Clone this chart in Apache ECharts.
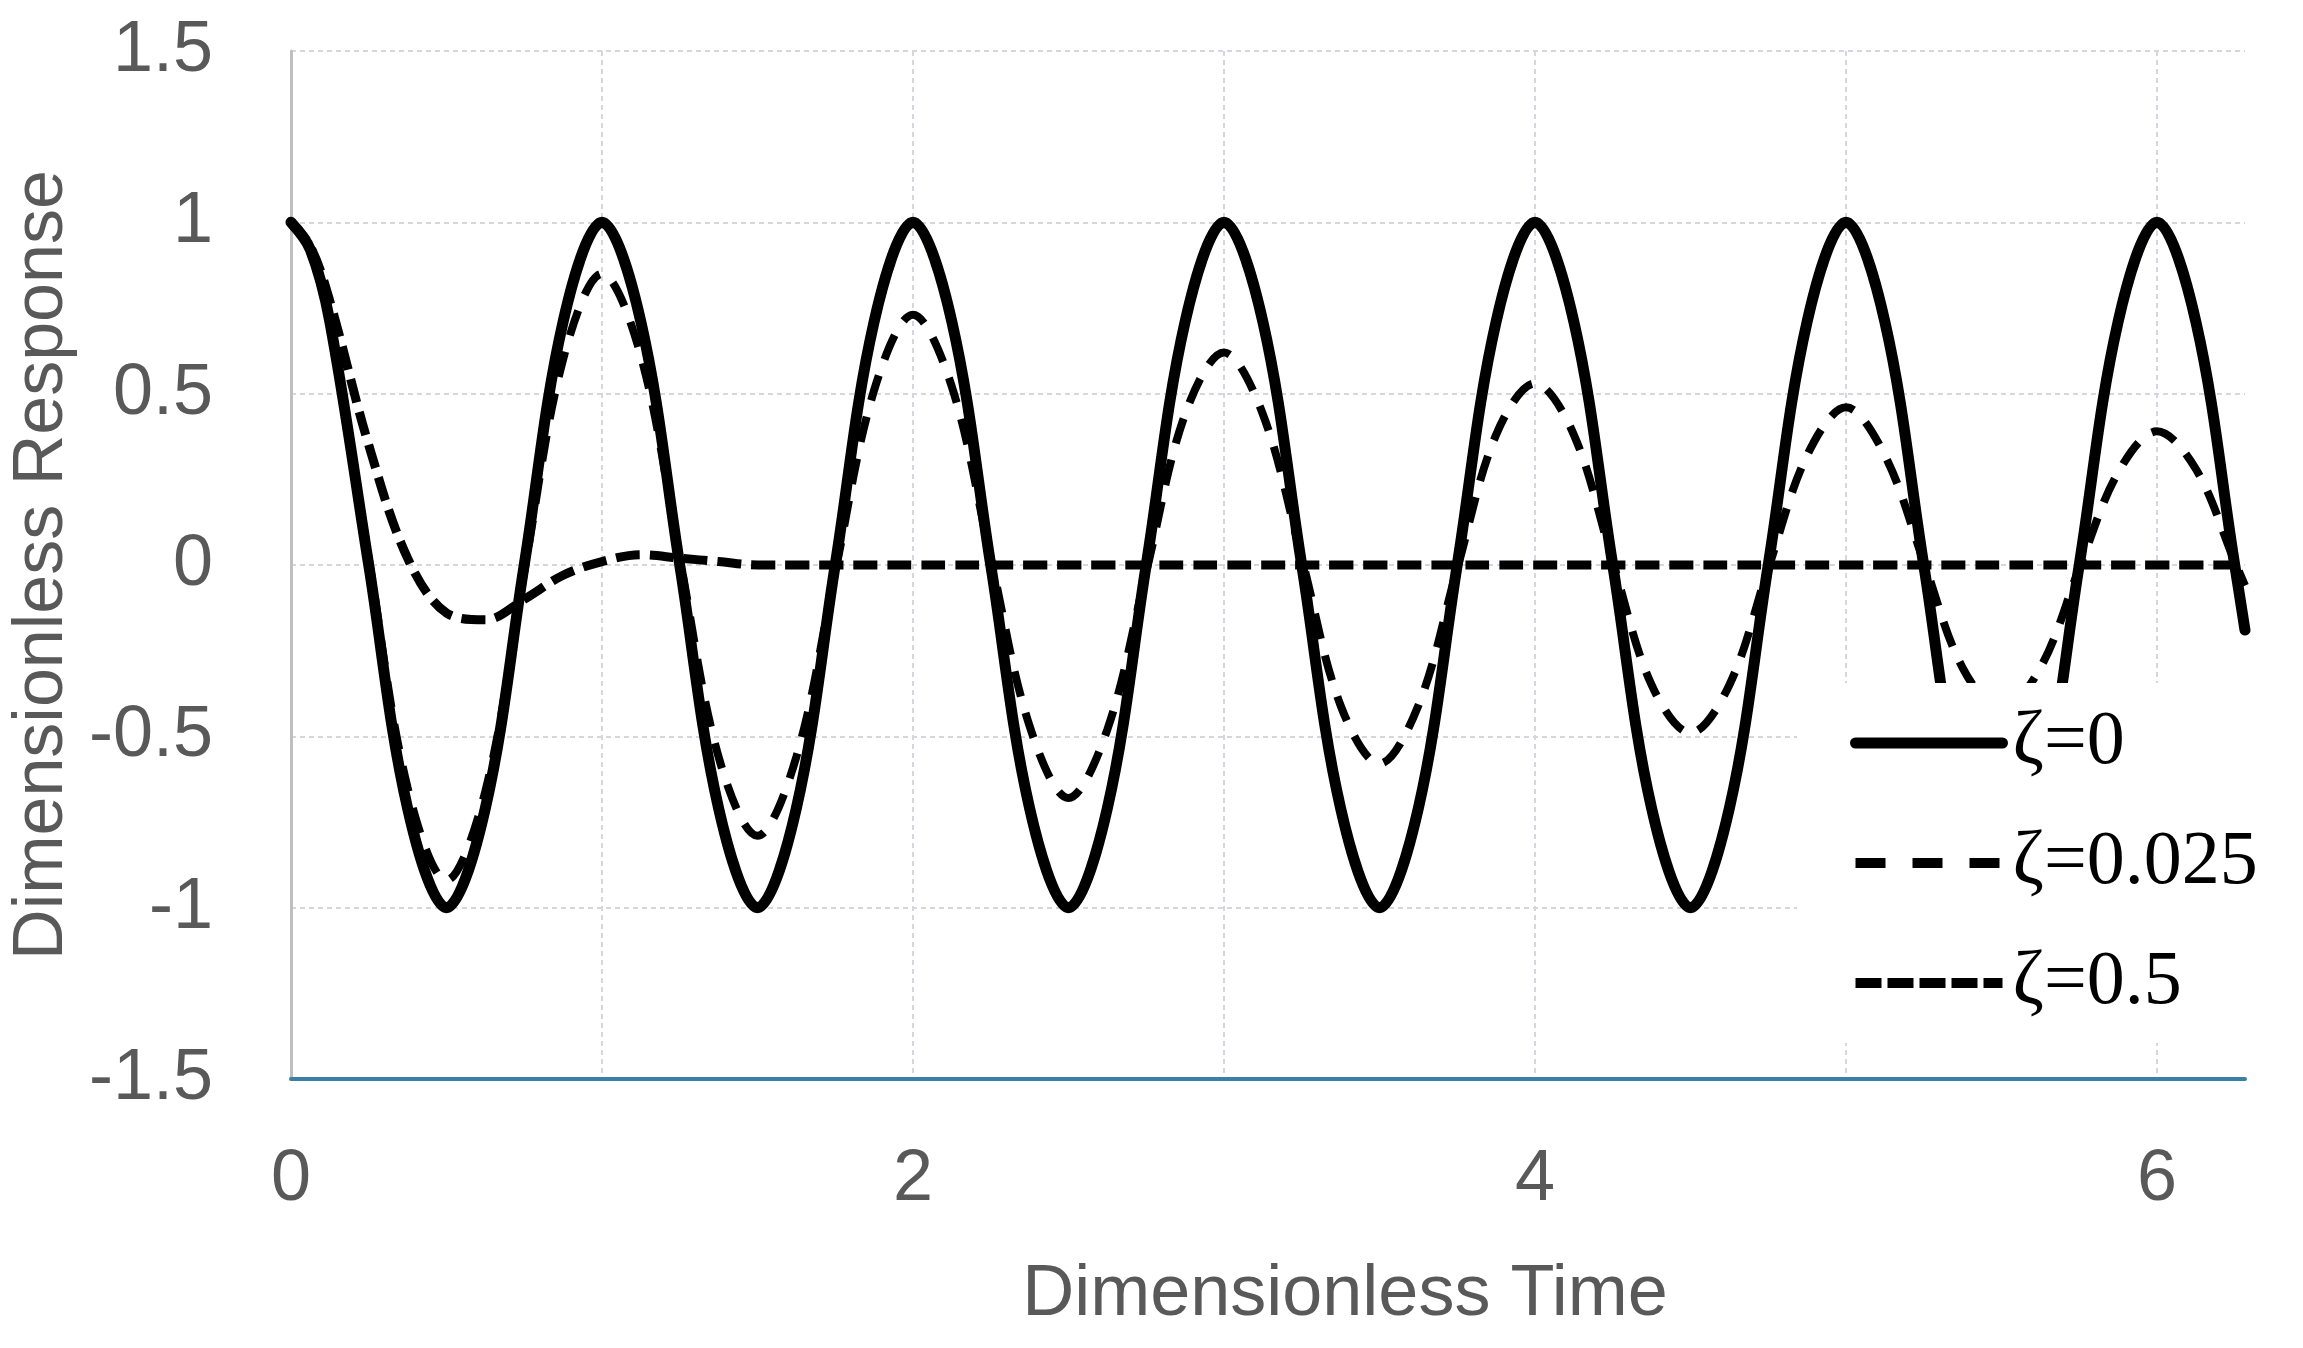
<!DOCTYPE html>
<html>
<head>
<meta charset="utf-8">
<title>Dimensionless response</title>
<script src="https://cdn.jsdelivr.net/npm/echarts@6/dist/echarts.min.js"></script>
<style>
  html, body { margin: 0; padding: 0; background: #fff; }
  #chart { width: 2303px; height: 1348px; }
</style>
</head>
<body>
<div id="chart"></div>
<script>
  // values, every 1/8 of a time unit (one extra near 0), plus the last point at the right edge
  var time = [
    0, 0.0625, 0.125, 0.25, 0.375, 0.5, 0.625, 0.75, 0.875,
    1, 1.125, 1.25, 1.375, 1.5, 1.625, 1.75, 1.875,
    2, 2.125, 2.25, 2.375, 2.5, 2.625, 2.75, 2.875,
    3, 3.125, 3.25, 3.375, 3.5, 3.625, 3.75, 3.875,
    4, 4.125, 4.25, 4.375, 4.5, 4.625, 4.75, 4.875,
    5, 5.125, 5.25, 5.375, 5.5, 5.625, 5.75, 5.875,
    6, 6.125, 6.25, 6.283
  ];
  var zeta0 = [
    1, 0.92, 0.71, 0, -0.71, -1, -0.71, 0, 0.71,
    1, 0.71, 0, -0.71, -1, -0.71, 0, 0.71,
    1, 0.71, 0, -0.71, -1, -0.71, 0, 0.71,
    1, 0.71, 0, -0.71, -1, -0.71, 0, 0.71,
    1, 0.71, 0, -0.71, -1, -0.71, 0, 0.71,
    1, 0.71, 0, -0.71, -1, -0.71, 0, 0.71,
    1, 0.71, 0, -0.19
  ];
  var zeta0025 = [
    1, 0.92, 0.71, 0.02, -0.65, -0.92, -0.66, -0.02, 0.60,
    0.85, 0.61, 0.02, -0.56, -0.79, -0.56, -0.02, 0.51,
    0.73, 0.52, 0.02, -0.47, -0.68, -0.48, -0.02, 0.44,
    0.62, 0.44, 0.02, -0.41, -0.58, -0.41, -0.01, 0.38,
    0.53, 0.38, 0.01, -0.35, -0.49, -0.35, -0.01, 0.32,
    0.46, 0.32, 0.01, -0.30, -0.42, -0.30, -0.01, 0.27,
    0.39, 0.28, 0.01, -0.06
  ];
  var zeta05 = [
    1, 0.93, 0.77, 0.35, 0.02, -0.14, -0.16, -0.10, -0.03,
    0.01, 0.03, 0.02, 0.01, 0, 0, 0, 0,
    0, 0, 0, 0, 0, 0, 0, 0,
    0, 0, 0, 0, 0, 0, 0, 0,
    0, 0, 0, 0, 0, 0, 0, 0,
    0, 0, 0, 0, 0, 0, 0, 0,
    0, 0, 0, 0
  ];
  var seriesNames = ['ζ=0', 'ζ=0.025', 'ζ=0.5'];

  function pairs(ys) {
    return time.map(function (t, i) { return [t, ys[i]]; });
  }

  var chartDom = document.getElementById('chart');
  var myChart = echarts.init(chartDom);

  var gray = '#595959';
  var gridColor = '#d6d6de';

  var option = {
    animation: false,
    backgroundColor: '#fff',
    grid: { left: 288, right: 58, top: 51, bottom: 269 },
    xAxis: {
      type: 'value',
      min: 0,
      max: 6.283,
      interval: 1,
      name: 'Dimensionless Time',
      nameLocation: 'middle',
      nameGap: 180,
      nameTextStyle: { color: gray, fontSize: 72, fontFamily: 'Liberation Sans', padding: [0, 0, 0, 154] },
      axisLine: { show: true, onZero: false, lineStyle: { color: '#3a7fa6', width: 4 } },
      axisTick: { show: false },
      axisLabel: {
        color: gray, fontSize: 72, fontFamily: 'Liberation Sans', margin: 65,
        formatter: function (v) { return Math.abs(v % 2) < 1e-9 ? String(v) : ''; }
      },
      splitLine: {
        show: true, showMinLine: false, showMaxLine: false,
        lineStyle: { color: gridColor, width: 2, type: [5, 4] }
      }
    },
    yAxis: {
      type: 'value',
      min: -1.5,
      max: 1.5,
      interval: 0.5,
      name: 'Dimensionless Response',
      nameLocation: 'middle',
      nameGap: 200,
      nameTextStyle: { color: gray, fontSize: 70, fontFamily: 'Liberation Sans' },
      axisLine: { show: true, lineStyle: { color: '#bfbfbf', width: 3 } },
      axisTick: { show: false },
      axisLabel: { color: gray, fontSize: 72, fontFamily: 'Liberation Sans', margin: 78 },
      splitLine: {
        show: true, showMinLine: false,
        lineStyle: { color: gridColor, width: 2, type: [5, 4] }
      }
    },
    legend: {
      orient: 'vertical',
      left: 1797,
      top: 683,
      padding: [20, 20, 20, 53],
      backgroundColor: '#fff',
      itemWidth: 147,
      itemHeight: 20,
      itemGap: 40,
      itemStyle: { opacity: 0 },
      textStyle: { color: '#000', fontSize: 76, fontFamily: 'Liberation Serif', lineHeight: 80, padding: [0, 0, 0, 5] },
      data: [
        { name: seriesNames[0], lineStyle: { color: '#000', width: 11, type: 'solid', cap: 'round' } },
        { name: seriesNames[1], lineStyle: { color: '#000', width: 10, type: [30, 27] } },
        { name: seriesNames[2], lineStyle: { color: '#000', width: 10, type: [26, 6] } }
      ]
    },
    series: [
      {
        name: seriesNames[0],
        type: 'line',
        data: pairs(zeta0),
        smooth: 0.35,
        symbol: 'none',
        lineStyle: { color: '#000', width: 11, cap: 'round' }
      },
      {
        name: seriesNames[1],
        type: 'line',
        data: pairs(zeta0025),
        smooth: 0.35,
        symbol: 'none',
        lineStyle: { color: '#000', width: 8, type: [26, 17] }
      },
      {
        name: seriesNames[2],
        type: 'line',
        data: pairs(zeta05),
        smooth: 0.35,
        symbol: 'none',
        lineStyle: { color: '#000', width: 9, type: [24, 10] }
      }
    ]
  };

  option && myChart.setOption(option);
</script>
</body>
</html>
